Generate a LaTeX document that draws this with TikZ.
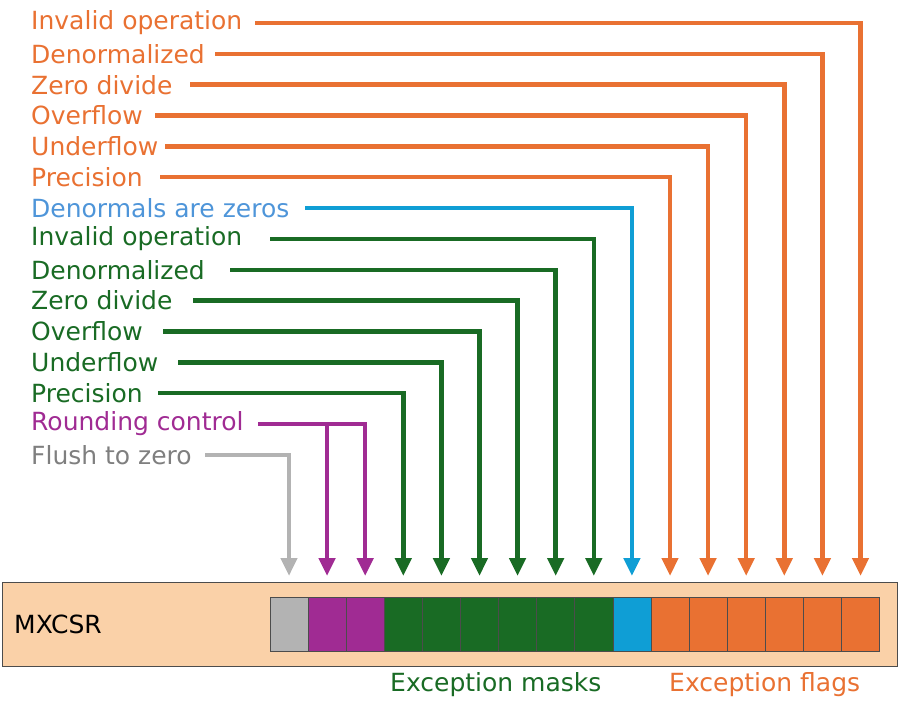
\documentclass[tikz,border=0pt]{standalone}
\usepackage{fontspec}
\setmainfont{DejaVu Sans}
\usetikzlibrary{arrows.meta}
\definecolor{org}{HTML}{E97132}
\definecolor{grn}{HTML}{196B24}
\definecolor{blu}{HTML}{0F9ED5}
\definecolor{blut}{HTML}{4E95D9}
\definecolor{pur}{HTML}{A02B93}
\definecolor{gry}{HTML}{B3B3B3}
\definecolor{gryt}{HTML}{7F7F7F}
\definecolor{bg}{HTML}{FAD1A8}
\begin{document}
\begin{tikzpicture}[x=1pt,y=-1pt,
  lab/.style={anchor=west,inner sep=0pt,font=\fontsize{25}{27}\selectfont},
  con/.style={line width=4.5pt,-{Triangle[width=16pt,length=18pt]}},
  cell/.style={draw=black!70,line width=0.6pt,minimum width=38.1pt,minimum height=54pt,inner sep=0pt}]
\useasboundingbox (0,0) rectangle (900,714);
\node[draw=black!70,line width=0.8pt,fill=bg,minimum width=895pt,minimum height=84pt,inner sep=0pt] (bar) at (449.5,624) {};
\node[lab] (mx) at (14,624) {MXCSR};
\foreach \i/\c in {0/gry,1/pur,2/pur,3/grn,4/grn,5/grn,6/grn,7/grn,8/grn,9/blu,10/org,11/org,12/org,13/org,14/org,15/org}{
  \node[cell,fill=\c] (c\i) at (289+\i*38.1,624) {};
  \coordinate (t\i) at (289+\i*38.1,576);
}
\foreach \r/\t/\c/\s in {0/Invalid operation/org/255,1/Denormalized/org/215,2/Zero divide/org/190,3/Overflow/org/155,4/Underflow/org/165,5/Precision/org/160,6/Denormals are zeros/blut/305,7/Invalid operation/grn/270,8/Denormalized/grn/230,9/Zero divide/grn/193,10/Overflow/grn/163,11/Underflow/grn/178,12/Precision/grn/158,13/Rounding control/pur/258,14/Flush to zero/gryt/205}{
  \node[lab,text=\c] (l\r) at (31,23+\r*30.85) {\t};
  \coordinate (s\r) at (\s,23+\r*30.85);
}
\foreach \r/\k/\c in {0/15/org,1/14/org,2/13/org,3/12/org,4/11/org,5/10/org,6/9/blu,7/8/grn,8/7/grn,9/6/grn,10/5/grn,11/4/grn,12/3/grn,13/2/pur,14/0/gry}{
  \draw[con,draw=\c] (s\r) -| (t\k);
}
\draw[con,draw=pur] (s13 -| t1) -- (t1);
\node[lab,text=grn] (em) at (390,685) {Exception masks};
\node[lab,text=org] (ef) at (669,685) {Exception flags};
\end{tikzpicture}
\end{document}
